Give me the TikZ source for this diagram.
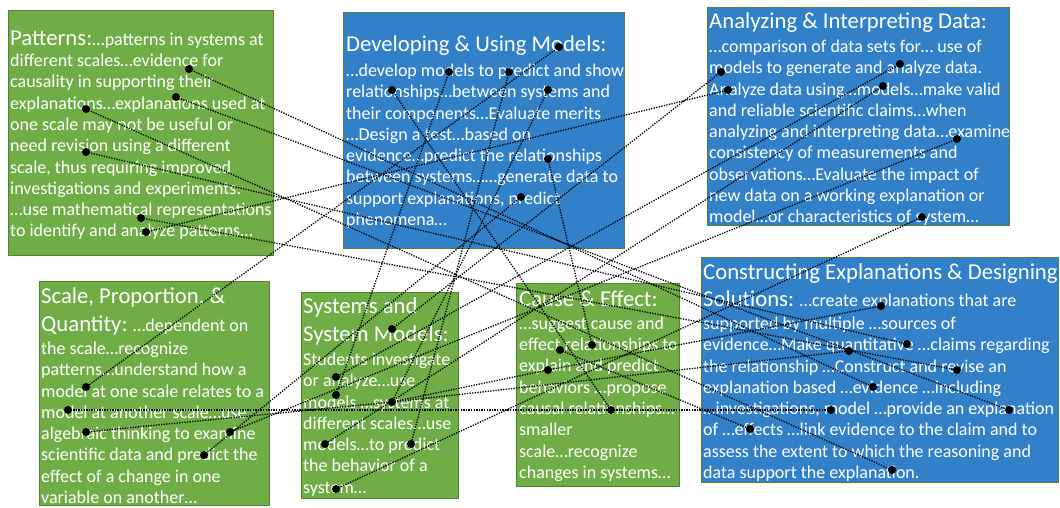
\documentclass[tikz,border=0pt]{standalone}
\usepackage{fontspec}
\setmainfont{Carlito}
\definecolor{boxgreen}{RGB}{112,173,71}
\definecolor{boxblue}{RGB}{50,128,200}
\definecolor{edgegreen}{RGB}{84,130,53}
\tikzset{
 gbox/.style={fill=boxgreen, draw=edgegreen, line width=0.8pt, anchor=north west, inner sep=0pt},
 bbox/.style={fill=boxblue, draw=edgegreen, line width=0.8pt, anchor=north west, inner sep=0pt},
 txt/.style={anchor=north west, inner sep=0pt, align=left, text=white, font=\fontsize{18}{21.3}\selectfont},
 dot/.style={circle, fill=black, inner sep=0pt, minimum size=8pt},
 conn/.style={line width=1.3pt, dash pattern=on 1.3pt off 1.3pt, black},
}
\newcommand{\ttl}[1]{{\fontsize{22.7}{25}\selectfont #1}}
\begin{document}
\begin{tikzpicture}[x=1pt,y=-1pt]
\useasboundingbox (0,0) rectangle (1060,508);
% boxes
\node[gbox, minimum width=265pt, minimum height=245pt] (pat) at (8,10) {};
\node[bbox, minimum width=281pt, minimum height=236pt] (dev) at (343,12) {};
\node[bbox, minimum width=302pt, minimum height=218pt] (ana) at (707,7) {};
\node[gbox, minimum width=230pt, minimum height=224pt] (sca) at (39,281) {};
\node[gbox, minimum width=157pt, minimum height=206pt] (sys) at (301,292) {};
\node[gbox, minimum width=163pt, minimum height=203pt] (cau) at (516,283) {};
\node[bbox, minimum width=357pt, minimum height=225pt] (con) at (701,257) {};
% texts
\node[txt] (patT) at (10,30.5) {\ttl{Patterns:}…patterns in systems at\\
different scales…evidence for\\
causality in supporting their\\
explanations…explanations used at\\
one scale may not be useful or\\
need revision using a different\\
scale, thus requiring improved\\
investigations and experiments.\\
…use mathematical representations\\
to identify and analyze patterns…};
\node[txt] (devT) at (346,35.5) {\ttl{Developing \& Using Models:}\\[3.7pt]
…develop models to predict and show\\
relationships…between systems and\\
their components…Evaluate merits\\
…Design a test…based on\\
evidence…predict the relationships\\
between systems……generate data to\\
support explanations, predict\\
phenomena…};
\node[txt] (anaT) at (709,12.5) {\ttl{Analyzing \& Interpreting Data:}\\[2.7pt]
…comparison of data sets for… use of\\
models to generate and analyze data.\\
Analyze data using…models…make valid\\
and reliable scientific claims…when\\
analyzing and interpreting data…examine\\
consistency of measurements and\\
observations…Evaluate the impact of\\
new data on a working explanation or\\
model…or characteristics of system…};
\node[txt] (scaT) at (41,287.5) {\ttl{Scale, Proportion, \&}\\[6.7pt]
\ttl{Quantity:} …dependent on\\[1.7pt]
the scale…recognize\\
patterns…understand how a\\
model at one scale relates to a\\
model at another scale…use\\
algebraic thinking to examine\\
scientific data and predict the\\
effect of a change in one\\
variable on another…};
\node[txt] (sysT) at (303,297.5) {\ttl{Systems and}\\[6.7pt]
\ttl{System Models:}\\[2.7pt]
Students investigate\\
or analyze…use\\
models …systems at\\
different scales…use\\
models…to predict\\
the behavior of a\\
system…};
\node[txt] (cauT) at (519,290.5) {\ttl{Cause \& Effect:}\\[1.7pt]
…suggest cause and\\
effect relationships to\\
explain and predict\\
behaviors …propose\\
causal relationships…\\
smaller\\
scale…recognize\\
changes in systems…};
\node[txt] (conT) at (703,263.5) {\ttl{Constructing Explanations \& Designing}\\[5.7pt]
\ttl{Solutions:} …create explanations that are\\[1.7pt]
supported by multiple …sources of\\
evidence…Make quantitative …claims regarding\\
the relationship …Construct and revise an\\
explanation based …evidence …including\\
…investigations, model …provide an explanation\\
of …effects …link evidence to the claim and to\\
assess the extent to which the reasoning and\\
data support the explanation.};
% dots
\node[dot] (P1) at (189,69) {};
\node[dot] (P2) at (176,97) {};
\node[dot] (P3) at (86,109) {};
\node[dot] (P4) at (86,152) {};
\node[dot] (P5) at (141,218) {};
\node[dot] (P6) at (146,232) {};
\node[dot] (D1) at (559,47) {};
\node[dot] (D2) at (449,72) {};
\node[dot] (D3) at (509,72) {};
\node[dot] (D4) at (392,90) {};
\node[dot] (D5) at (548,90) {};
\node[dot] (D6) at (548,159) {};
\node[dot] (D7) at (521,197) {};
\node[dot] (A1) at (721,72) {};
\node[dot] (A2) at (728,90) {};
\node[dot] (A3) at (900,64) {};
\node[dot] (A4) at (883,86) {};
\node[dot] (A5) at (957,139) {};
\node[dot] (A6) at (922,217) {};
\node[dot] (S1) at (86,387) {};
\node[dot] (S2) at (68,410) {};
\node[dot] (S3) at (86,432) {};
\node[dot] (S4) at (230,432) {};
\node[dot] (S5) at (204,455) {};
\node[dot] (Y1) at (392,329) {};
\node[dot] (Y2) at (336,377) {};
\node[dot] (Y3) at (336,395) {};
\node[dot] (Y4) at (392,402) {};
\node[dot] (Y5) at (325,444) {};
\node[dot] (Y6) at (411,444) {};
\node[dot] (Y7) at (336,489) {};
\node[dot] (C1) at (592,345) {};
\node[dot] (C2) at (560,350) {};
\node[dot] (C3) at (548,370) {};
\node[dot] (C4) at (611,410) {};
\node[dot] (E1) at (881,306) {};
\node[dot] (E2) at (907,344) {};
\node[dot] (E3) at (849,351) {};
\node[dot] (E4) at (957,370) {};
\node[dot] (E5) at (873,387) {};
\node[dot] (E6) at (1009,410) {};
\node[dot] (E7) at (831,410) {};
\node[dot] (E8) at (750,429) {};
\node[dot] (E9) at (892,470) {};
% connectors
\draw[conn] (P1.center) -- (E5.center);
\draw[conn] (P2.center) -- (E6.center);
\draw[conn] (P3.center) -- (E9.center);
\draw[conn] (P4.center) -- (E2.center);
\draw[conn] (P5.center) -- (E4.center);
\draw[conn] (P6.center) -- (A2.center);
\draw[conn] (D1.center) -- (S1.center);
\draw[conn] (D2.center) -- (Y3.center);
\draw[conn] (D3.center) -- (Y6.center);
\draw[conn] (D4.center) -- (C4.center);
\draw[conn] (D5.center) -- (Y4.center);
\draw[conn] (D6.center) -- (C1.center);
\draw[conn] (D7.center) -- (S5.center);
\draw[conn] (A1.center) -- (Y1.center);
\draw[conn] (A3.center) -- (Y2.center);
\draw[conn] (A4.center) -- (Y5.center);
\draw[conn] (A5.center) -- (S4.center);
\draw[conn] (A6.center) -- (Y7.center);
\draw[conn] (S2.center) -- (C4.center);
\draw[conn] (C4.center) -- (E7.center);
\draw[conn] (S3.center) -- (Y4.center);
\draw[conn] (Y4.center) -- (E3.center);
\draw[conn] (C2.center) -- (E8.center);
\draw[conn] (Y4.center) -- (C3.center);
\draw[conn] (C3.center) -- (E1.center);
\end{tikzpicture}
\end{document}
